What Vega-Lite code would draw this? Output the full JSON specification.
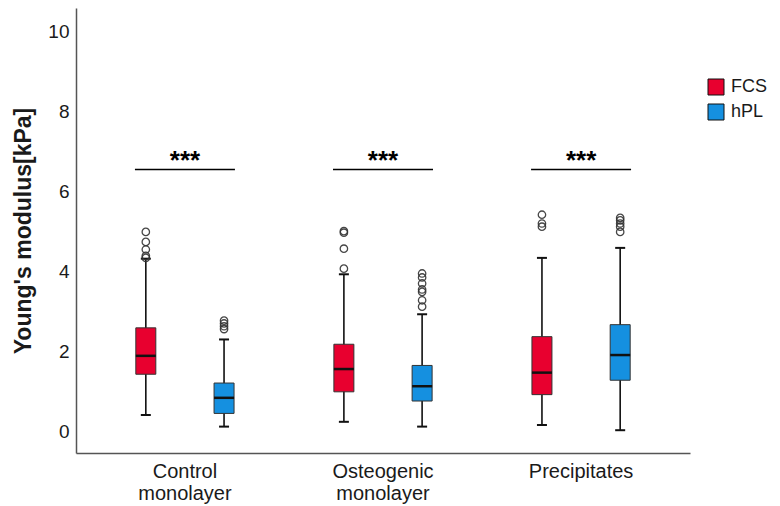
{
  "$schema": "https://vega.github.io/schema/vega-lite/v6.json",
  "width": 614,
  "height": 445,
  "autosize": {"type": "none"},
  "padding": {"left": 76, "top": 8, "right": 90, "bottom": 53},
  "background": "white",
  "config": {
    "view": {"stroke": null},
    "font": "Liberation Sans",
    "tick": {"opacity": 1},
    "bar": {"opacity": 1},
    "axis": {"grid": false, "ticks": false, "domainColor": "#555", "domainWidth": 1.5, "labelColor": "#1a1a1a", "titleColor": "#1a1a1a"}
  },
  "datasets": {
    "boxes": [
      {"group": "Control monolayer", "series": "FCS", "lower": 0.42, "q1": 1.44, "median": 1.9, "q3": 2.6, "upper": 4.33},
      {"group": "Control monolayer", "series": "hPL", "lower": 0.13, "q1": 0.46, "median": 0.85, "q3": 1.22, "upper": 2.31},
      {"group": "Osteogenic monolayer", "series": "FCS", "lower": 0.25, "q1": 1.0, "median": 1.57, "q3": 2.19, "upper": 3.94},
      {"group": "Osteogenic monolayer", "series": "hPL", "lower": 0.13, "q1": 0.77, "median": 1.14, "q3": 1.66, "upper": 2.94},
      {"group": "Precipitates", "series": "FCS", "lower": 0.17, "q1": 0.93, "median": 1.48, "q3": 2.38, "upper": 4.35},
      {"group": "Precipitates", "series": "hPL", "lower": 0.04, "q1": 1.29, "median": 1.92, "q3": 2.68, "upper": 4.6}
    ],
    "outliers": [
      {"group": "Control monolayer", "series": "FCS", "value": 5.0},
      {"group": "Control monolayer", "series": "FCS", "value": 4.75},
      {"group": "Control monolayer", "series": "FCS", "value": 4.56},
      {"group": "Control monolayer", "series": "FCS", "value": 4.4},
      {"group": "Control monolayer", "series": "FCS", "value": 4.35},
      {"group": "Control monolayer", "series": "hPL", "value": 2.78},
      {"group": "Control monolayer", "series": "hPL", "value": 2.71},
      {"group": "Control monolayer", "series": "hPL", "value": 2.64},
      {"group": "Control monolayer", "series": "hPL", "value": 2.57},
      {"group": "Osteogenic monolayer", "series": "FCS", "value": 5.02},
      {"group": "Osteogenic monolayer", "series": "FCS", "value": 4.98},
      {"group": "Osteogenic monolayer", "series": "FCS", "value": 4.58},
      {"group": "Osteogenic monolayer", "series": "FCS", "value": 4.08},
      {"group": "Osteogenic monolayer", "series": "hPL", "value": 3.96},
      {"group": "Osteogenic monolayer", "series": "hPL", "value": 3.86},
      {"group": "Osteogenic monolayer", "series": "hPL", "value": 3.71},
      {"group": "Osteogenic monolayer", "series": "hPL", "value": 3.56},
      {"group": "Osteogenic monolayer", "series": "hPL", "value": 3.5},
      {"group": "Osteogenic monolayer", "series": "hPL", "value": 3.29},
      {"group": "Osteogenic monolayer", "series": "hPL", "value": 3.13},
      {"group": "Precipitates", "series": "FCS", "value": 5.43},
      {"group": "Precipitates", "series": "FCS", "value": 5.21},
      {"group": "Precipitates", "series": "FCS", "value": 5.13},
      {"group": "Precipitates", "series": "hPL", "value": 5.35},
      {"group": "Precipitates", "series": "hPL", "value": 5.29},
      {"group": "Precipitates", "series": "hPL", "value": 5.21},
      {"group": "Precipitates", "series": "hPL", "value": 5.13},
      {"group": "Precipitates", "series": "hPL", "value": 5.0}
    ],
    "sig": [
      {"group": "Control monolayer", "y": 6.56, "ty": 6.58, "label": "***"},
      {"group": "Osteogenic monolayer", "y": 6.56, "ty": 6.58, "label": "***"},
      {"group": "Precipitates", "y": 6.56, "ty": 6.58, "label": "***"}
    ]
  },
  "encoding": {
    "x": {
      "field": "group", "type": "nominal", "sort": null,
      "scale": {"paddingInner": 0, "paddingOuter": 0.05},
      "axis": {
        "title": null, "labelAngle": 0, "labelFontSize": 20, "labelPadding": 8,
        "labelLineHeight": 22, "labelBaseline": "top",
        "labelExpr": "datum.value == 'Precipitates' ? 'Precipitates' : split(datum.value, ' ')"
      }
    }
  },
  "layer": [
    {
      "data": {"name": "boxes"},
      "mark": {"type": "rule", "color": "#111", "strokeWidth": 1.6},
      "encoding": {
        "xOffset": {"field": "series", "type": "nominal", "scale": {"paddingInner": 0, "paddingOuter": 0.266}},
        "y": {"field": "lower", "type": "quantitative", "scale": {"domain": [-0.53, 10.6], "nice": false, "zero": false},
          "axis": {"values": [0, 2, 4, 6, 8, 10], "labelFontSize": 19, "labelPadding": 7, "title": "Young's modulus[kPa]", "titleFontSize": 23, "titleFontWeight": "bold", "titlePadding": 12}},
        "y2": {"field": "upper"}
      }
    },
    {
      "data": {"name": "boxes"},
      "mark": {"type": "tick", "color": "#111", "size": 10, "thickness": 2},
      "encoding": {
        "xOffset": {"field": "series", "type": "nominal"},
        "y": {"field": "lower", "type": "quantitative"}
      }
    },
    {
      "data": {"name": "boxes"},
      "mark": {"type": "tick", "color": "#111", "size": 10, "thickness": 2},
      "encoding": {
        "xOffset": {"field": "series", "type": "nominal"},
        "y": {"field": "upper", "type": "quantitative"}
      }
    },
    {
      "data": {"name": "boxes"},
      "mark": {"type": "bar", "size": 20, "stroke": "#333", "strokeWidth": 1},
      "encoding": {
        "xOffset": {"field": "series", "type": "nominal"},
        "y": {"field": "q1", "type": "quantitative"},
        "y2": {"field": "q3"},
        "color": {
          "field": "series", "type": "nominal",
          "scale": {"domain": ["FCS", "hPL"], "range": ["#E8002F", "#1590E0"]},
          "legend": {
            "title": null, "orient": "none", "legendX": 631, "legendY": 70,
            "symbolType": "square", "symbolSize": 256, "symbolStrokeColor": "#111", "symbolStrokeWidth": 1, "symbolOpacity": 1,
            "labelFontSize": 18, "labelColor": "#1a1a1a", "rowPadding": 5, "labelOffset": 6
          }
        }
      }
    },
    {
      "data": {"name": "boxes"},
      "mark": {"type": "tick", "color": "#111", "size": 20, "thickness": 2.5},
      "encoding": {
        "xOffset": {"field": "series", "type": "nominal"},
        "y": {"field": "median", "type": "quantitative"}
      }
    },
    {
      "data": {"name": "outliers"},
      "mark": {"type": "point", "shape": "circle", "filled": false, "stroke": "#333", "strokeWidth": 1.3, "size": 55, "opacity": 0.9},
      "encoding": {
        "xOffset": {"field": "series", "type": "nominal"},
        "y": {"field": "value", "type": "quantitative"}
      }
    },
    {
      "data": {"name": "sig"},
      "mark": {"type": "tick", "color": "#000", "size": 100, "thickness": 1.5},
      "encoding": {
        "y": {"field": "y", "type": "quantitative"}
      }
    },
    {
      "data": {"name": "sig"},
      "mark": {"type": "text", "fontSize": 26, "fontWeight": "bold", "color": "#000", "baseline": "alphabetic"},
      "encoding": {
        "y": {"field": "ty", "type": "quantitative"},
        "text": {"field": "label"}
      }
    }
  ]
}
